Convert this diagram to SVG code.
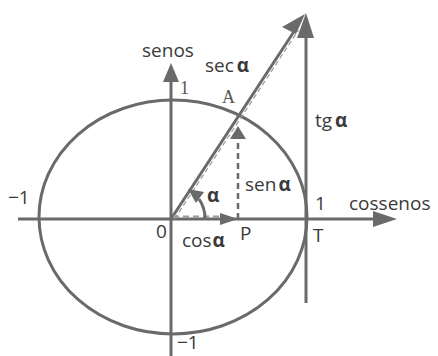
<svg xmlns="http://www.w3.org/2000/svg" width="438" height="356" viewBox="0 0 438 356">
<style>
.ln{stroke:#6a6a6a;stroke-width:3;fill:none}
.ds{stroke:#6a6a6a;stroke-width:2.5;fill:none;stroke-dasharray:6 4}
.ah{fill:#6a6a6a;stroke:none}
.t{font-family:"Open Sans","DejaVu Sans",sans-serif;font-size:19px;fill:#3a3a3a}
.a{font-weight:bold}
.s{font-family:"Liberation Serif",serif;font-size:18px;fill:#555}
</style>
<rect width="438" height="356" fill="#fff"/>
<g id="circle"><ellipse class="ln" cx="173" cy="217" rx="134" ry="117"/></g>
<g id="connectors">
<line class="ln" x1="18" y1="219" x2="380" y2="219"/>
<polygon class="ah" points="397,219 373,211 373,227"/>
<line class="ln" x1="171" y1="356" x2="171" y2="82"/>
<polygon class="ah" points="171,63 163,82 179,82"/>
<line class="ln" x1="306" y1="303" x2="306" y2="36"/>
<polygon class="ah" points="306,13 297,38 314,38"/>
<line class="ln" stroke-width="4" x1="171" y1="219" x2="295" y2="30"/>
<line stroke="#9a9a9a" stroke-width="1.2" stroke-dasharray="5 3" x1="174.5" y1="219" x2="298.5" y2="30"/>
<polygon class="ah" points="305,14 282,27 296,34"/>
<line class="ds" x1="238" y1="219" x2="238" y2="138"/>
<polygon class="ah" points="238,126 230,139 246,139"/>
<line stroke="#9a9a9a" stroke-width="2" stroke-dasharray="6 4" x1="173" y1="216.5" x2="222" y2="216.5"/>
<polygon class="ah" points="238,219 220,213 220,225"/>
<path class="ln" stroke-width="2" d="M205,219 A34,34 0 0 0 199,199"/>
<polygon class="ah" points="188,189 204,192 196,203"/>
</g>
<g id="labels">
<text class="t" x="142" y="57">senos</text>
<text class="t" x="205" y="72">sec<tspan class="a" dx="3">α</tspan></text>
<text class="s" x="222" y="103">A</text>
<text class="s" x="180" y="94">1</text>
<text class="t" x="315" y="127">tg<tspan class="a" dx="3">α</tspan></text>
<text class="t" x="245" y="191">sen<tspan class="a" dx="2">α</tspan></text>
<text class="t a" x="207" y="202">α</text>
<text class="t" x="8" y="204">−1</text>
<text class="t" x="315" y="210">1</text>
<text class="t" x="349" y="210">cossenos</text>
<text class="t" x="156" y="238">0</text>
<text class="t" x="182" y="247">cos<tspan class="a" dx="1">α</tspan></text>
<text class="t" x="240" y="240">P</text>
<text class="t" x="313" y="242">T</text>
<text class="t" x="177" y="349" font-size="18">−1</text>
</g>
</svg>
